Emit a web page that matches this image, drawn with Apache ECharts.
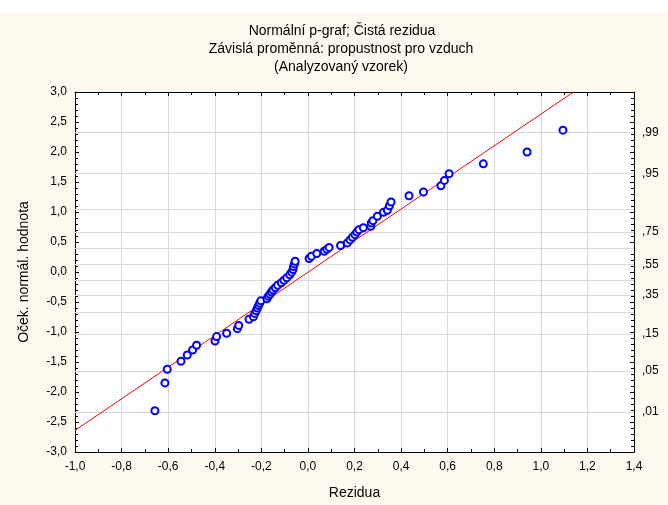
<!DOCTYPE html>
<html>
<head>
<meta charset="utf-8">
<script src="https://cdn.jsdelivr.net/npm/echarts@6/dist/echarts.min.js"></script>
<style>
  html, body { margin: 0; padding: 0; background: #fdf9ef; }
  #chart { width: 668px; height: 505px; }
</style>
</head>
<body>
<div id="chart"></div>
<script>
// Raw residuals (sorted) and their expected normal values
const residuals = [
  -0.657, -0.614, -0.604, -0.545, -0.518, -0.495, -0.478, -0.399, -0.392, -0.349,
  -0.303, -0.297, -0.253, -0.234, -0.228, -0.222, -0.217, -0.212, -0.207, -0.202,
  -0.176, -0.170, -0.163, -0.157, -0.150, -0.140, -0.130, -0.114, -0.103, -0.091,
  -0.078, -0.070, -0.064, -0.062, -0.058, -0.055, 0.005, 0.015, 0.038, 0.070,
  0.081, 0.091, 0.140, 0.169, 0.181, 0.191, 0.202, 0.210, 0.219, 0.238,
  0.270, 0.272, 0.279, 0.298, 0.324, 0.341, 0.350, 0.357, 0.434, 0.496,
  0.571, 0.586, 0.606, 0.753, 0.941, 1.095
];
const expectedNormal = [
  -2.313, -1.848, -1.620, -1.487, -1.383, -1.300, -1.220, -1.150, -1.077, -1.020,
  -0.944, -0.890, -0.789, -0.745, -0.690, -0.645, -0.600, -0.560, -0.520, -0.480,
  -0.445, -0.405, -0.370, -0.335, -0.300, -0.262, -0.220, -0.180, -0.138, -0.097,
  -0.045, -0.003, 0.040, 0.090, 0.135, 0.180, 0.225, 0.262, 0.308, 0.346,
  0.378, 0.410, 0.442, 0.485, 0.535, 0.580, 0.622, 0.665, 0.706, 0.738,
  0.762, 0.818, 0.856, 0.928, 0.994, 1.030, 1.105, 1.167, 1.270, 1.333,
  1.438, 1.526, 1.637, 1.803, 2.000, 2.364
];

// Reference line endpoints
const refLineX = [-1.0, 1.14];
const refLineY = [-2.64, 3.0];

// Probability scale on the right axis (normal quantiles)
const probLabels = [',01', ',05', ',15', ',35', ',55', ',75', ',95', ',99'];
const probZ = [-2.326, -1.645, -1.036, -0.385, 0.126, 0.674, 1.645, 2.326];
// Horizontal grid lines at probabilities .01 .05 .15 .25 .35 .45 .55 .65 .75 .85 .95 .99
const gridZ = [-2.326, -1.645, -1.036, -0.674, -0.385, -0.126, 0.126, 0.385, 0.674, 1.036, 1.645, 2.326];

const FONT = 'Liberation Sans, Arial, sans-serif';
const comma = v => v.toFixed(1).replace('.', ',');

const points = residuals.map((x, i) => [x, expectedNormal[i]]);
const lineData = refLineX.map((x, i) => [x, refLineY[i]]);
const probMap = {};
probZ.forEach((z, i) => { probMap[z.toFixed(3)] = probLabels[i]; });

const chart = echarts.init(document.getElementById('chart'), null, { renderer: 'canvas' });

chart.setOption({
  backgroundColor: '#fdf9ef',
  animation: false,
  graphic: [
    { type: 'rect', left: 0, top: 0, shape: { width: 668, height: 12 }, style: { fill: '#ffffff' }, z: 0 },
    { type: 'text', x: 342, y: 31, style: { text: 'Normální p-graf; Čistá rezidua', font: '14px ' + FONT, fill: '#000', align: 'center', verticalAlign: 'middle' } },
    { type: 'text', x: 341, y: 49, style: { text: 'Závislá proměnná: propustnost pro vzduch', font: '14px ' + FONT, fill: '#000', align: 'center', verticalAlign: 'middle' } },
    { type: 'text', x: 341, y: 67, style: { text: '(Analyzovaný vzorek)', font: '14px ' + FONT, fill: '#000', align: 'center', verticalAlign: 'middle' } }
  ],
  grid: {
    left: 75, right: 34, top: 92, bottom: 52,
    show: true, backgroundColor: '#ffffff', borderWidth: 0
  },
  xAxis: [
    {
      type: 'value', min: -1.0, max: 1.4, interval: 0.2, position: 'bottom',
      name: 'Rezidua', nameLocation: 'middle', nameGap: 34,
      nameTextStyle: { fontFamily: FONT, fontSize: 14, color: '#000' },
      axisLine: { onZero: false, lineStyle: { color: '#000', width: 1 } },
      axisTick: { inside: true, length: 4, lineStyle: { color: '#000' } },
      minorTick: { show: true, splitNumber: 2, length: 3, lineStyle: { color: '#000' } },
      axisLabel: { formatter: comma, fontFamily: FONT, fontSize: 12, color: '#000', margin: 9 },
      splitLine: { show: true, lineStyle: { color: '#d9d9d9', width: 1 } }
    },
    {
      type: 'value', min: -1.0, max: 1.4, interval: 0.2, position: 'top',
      axisLine: { onZero: false, lineStyle: { color: '#000', width: 1 } },
      axisTick: { inside: true, length: 4, lineStyle: { color: '#000' } },
      minorTick: { show: true, splitNumber: 2, length: 3, lineStyle: { color: '#000' } },
      axisLabel: { show: false },
      splitLine: { show: false }
    }
  ],
  yAxis: [
    {
      type: 'value', min: -3.0, max: 3.0, interval: 0.5, position: 'left',
      name: 'Oček. normál. hodnota', nameLocation: 'middle', nameGap: 44, nameRotate: 90,
      nameTextStyle: { fontFamily: FONT, fontSize: 14, color: '#000' },
      axisLine: { onZero: false, lineStyle: { color: '#000', width: 1 } },
      axisTick: { inside: true, length: 4, lineStyle: { color: '#000' } },
      minorTick: { show: true, splitNumber: 5, length: 3, lineStyle: { color: '#000' } },
      axisLabel: { formatter: comma, fontFamily: FONT, fontSize: 12, color: '#000', margin: 8 },
      splitLine: { show: false }
    },
    {
      type: 'value', min: -3.0, max: 3.0, interval: 0.5, position: 'right',
      axisLine: { onZero: false, lineStyle: { color: '#000', width: 1 } },
      axisTick: { inside: true, length: 4, lineStyle: { color: '#000' } },
      minorTick: { show: true, splitNumber: 5, length: 3, lineStyle: { color: '#000' } },
      axisLabel: {
        customValues: probZ,
        formatter: v => probMap[Number(v).toFixed(3)] || '',
        fontFamily: FONT, fontSize: 12, color: '#000', margin: 8
      },
      splitLine: { show: false }
    }
  ],
  series: [
    {
      type: 'line', xAxisIndex: 0, yAxisIndex: 0, data: [], silent: true,
      markLine: {
        silent: true, symbol: 'none', label: { show: false }, z: 1,
        lineStyle: { color: '#d9d9d9', width: 1, type: 'solid' },
        data: gridZ.map(z => ({ yAxis: z }))
      },
      z: 1
    },
    {
      type: 'line', xAxisIndex: 0, yAxisIndex: 0, data: lineData,
      symbol: 'none', clip: true,
      lineStyle: { color: '#ff0000', width: 1 }, z: 6
    },
    {
      type: 'scatter', xAxisIndex: 0, yAxisIndex: 0, data: points,
      symbol: 'circle', symbolSize: 7,
      itemStyle: { color: '#ffffff', borderColor: '#0000ff', borderWidth: 2, opacity: 1 },
      z: 7
    }
  ]
});
</script>
</body>
</html>
